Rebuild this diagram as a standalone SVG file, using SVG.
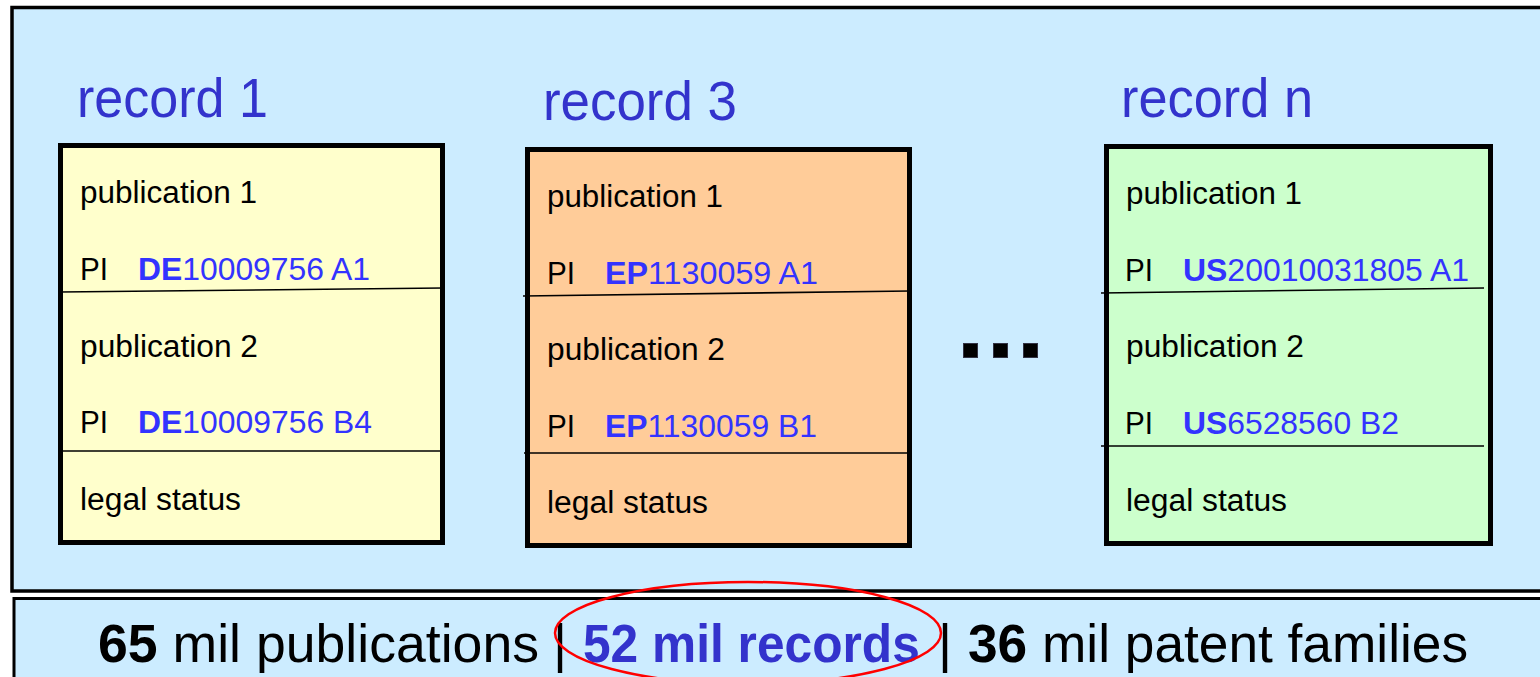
<svg xmlns="http://www.w3.org/2000/svg" width="1540" height="677" viewBox="0 0 1540 677">
<style>
text{font-family:"Liberation Sans",Arial,sans-serif}
.title{font-size:55px;fill:#3333CC}
.t{font-size:31px;fill:#000}
.c{font-size:31px;fill:#3333FF}
.b{font-weight:bold}
.box{stroke:#000;stroke-width:5}
.div{stroke:#000;stroke-width:1.6;fill:none}
.big{font-size:54px;fill:#000}
</style>
<rect x="0" y="0" width="1540" height="677" fill="#FFFFFF"/>
<g id="panel">
<rect x="12" y="7.5" width="1545" height="583.5" fill="#CCECFF" stroke="#000" stroke-width="3.5"/>
</g>
<g id="record1">
<text class="title" x="77" y="117" textLength="191" lengthAdjust="spacingAndGlyphs">record 1</text>
<rect class="box" x="60.5" y="145.5" width="382" height="397" fill="#FFFFCC"/>
<line class="div" x1="60" y1="292" x2="443" y2="288"/>
<line class="div" x1="60" y1="451" x2="443" y2="451"/>
<text class="t" x="80" y="203" textLength="177" lengthAdjust="spacingAndGlyphs">publication 1</text>
<text class="t" x="80" y="280" textLength="28" lengthAdjust="spacingAndGlyphs">PI</text>
<text class="c" x="138" y="280" textLength="232" lengthAdjust="spacingAndGlyphs"><tspan class="b">DE</tspan>10009756 A1</text>
<text class="t" x="80" y="357" textLength="178" lengthAdjust="spacingAndGlyphs">publication 2</text>
<text class="t" x="80" y="433" textLength="28" lengthAdjust="spacingAndGlyphs">PI</text>
<text class="c" x="138" y="433" textLength="234" lengthAdjust="spacingAndGlyphs"><tspan class="b">DE</tspan>10009756 B4</text>
<text class="t" x="80" y="510" textLength="161" lengthAdjust="spacingAndGlyphs">legal status</text>
</g>
<g id="record3">
<text class="title" x="543" y="120" textLength="194" lengthAdjust="spacingAndGlyphs">record 3</text>
<rect class="box" x="527.5" y="149.5" width="382" height="396" fill="#FFCC99"/>
<line class="div" x1="523" y1="296" x2="910" y2="291"/>
<line class="div" x1="524" y1="453" x2="910" y2="453"/>
<text class="t" x="547" y="207" textLength="176" lengthAdjust="spacingAndGlyphs">publication 1</text>
<text class="t" x="547" y="284" textLength="28" lengthAdjust="spacingAndGlyphs">PI</text>
<text class="c" x="605" y="284" textLength="213" lengthAdjust="spacingAndGlyphs"><tspan class="b">EP</tspan>1130059 A1</text>
<text class="t" x="547" y="360" textLength="178" lengthAdjust="spacingAndGlyphs">publication 2</text>
<text class="t" x="547" y="437" textLength="28" lengthAdjust="spacingAndGlyphs">PI</text>
<text class="c" x="605" y="437" textLength="212" lengthAdjust="spacingAndGlyphs"><tspan class="b">EP</tspan>1130059 B1</text>
<text class="t" x="547" y="513" textLength="161" lengthAdjust="spacingAndGlyphs">legal status</text>
</g>
<g id="ellipsis">
<rect x="963.5" y="343.5" width="14" height="14" fill="#000" stroke="#334" stroke-width="1"/>
<rect x="993.5" y="343.5" width="14" height="14" fill="#000" stroke="#334" stroke-width="1"/>
<rect x="1023.5" y="343.5" width="14" height="14" fill="#000" stroke="#334" stroke-width="1"/>
</g>
<g id="recordn">
<text class="title" x="1121" y="117" textLength="192" lengthAdjust="spacingAndGlyphs">record n</text>
<rect class="box" x="1106.5" y="146.5" width="384" height="397" fill="#CCFFCC"/>
<line class="div" x1="1101" y1="293" x2="1484" y2="288"/>
<line class="div" x1="1101" y1="446" x2="1484" y2="446"/>
<text class="t" x="1126" y="204" textLength="176" lengthAdjust="spacingAndGlyphs">publication 1</text>
<text class="t" x="1125" y="281" textLength="28" lengthAdjust="spacingAndGlyphs">PI</text>
<text class="c" x="1183" y="281" textLength="286" lengthAdjust="spacingAndGlyphs"><tspan class="b">US</tspan>20010031805 A1</text>
<text class="t" x="1126" y="357" textLength="178" lengthAdjust="spacingAndGlyphs">publication 2</text>
<text class="t" x="1125" y="434" textLength="28" lengthAdjust="spacingAndGlyphs">PI</text>
<text class="c" x="1183" y="434" textLength="216" lengthAdjust="spacingAndGlyphs"><tspan class="b">US</tspan>6528560 B2</text>
<text class="t" x="1126" y="511" textLength="161" lengthAdjust="spacingAndGlyphs">legal status</text>
</g>
<g id="summary">
<rect x="14" y="598.5" width="1545" height="100" fill="#CCECFF" stroke="#000" stroke-width="3"/>
<text class="big" transform="translate(98,662) scale(0.993,1)" x="0" y="0"><tspan class="b">65</tspan> mil publications</text>
<text class="big" x="553" y="662">|</text>
<text class="big b" transform="translate(583,662) scale(0.92,1)" x="0" y="0" style="fill:#3333CC">52 mil records</text>
<text class="big" x="938" y="662">|</text>
<text class="big" transform="translate(968,662) scale(0.986,1)" x="0" y="0"><tspan class="b">36</tspan> mil patent families</text>
<ellipse cx="748" cy="633" rx="193" ry="51" fill="none" stroke="#FF0000" stroke-width="2.5"/>
</g>
</svg>
